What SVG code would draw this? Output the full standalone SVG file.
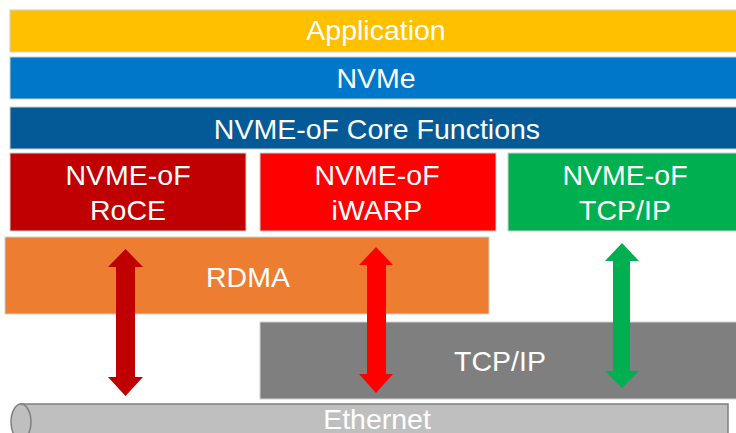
<svg xmlns="http://www.w3.org/2000/svg" width="736" height="433" viewBox="0 0 736 433">
<style>
.lbl{font-family:"Liberation Sans",Arial,sans-serif;font-size:28.5px;fill:#fff;text-anchor:middle}
.box{stroke:#d0d0d0;stroke-width:1}
</style>
<rect width="736" height="433" fill="#fff"/>
<g id="application"><rect class="box" x="10" y="10" width="730" height="42" fill="#ffc000"/><text class="lbl" x="376" y="40">Application</text></g>
<g id="nvme"><rect class="box" x="10" y="57" width="730" height="42" fill="#0077c8"/><text class="lbl" x="376" y="88">NVMe</text></g>
<g id="core"><rect class="box" x="10" y="107" width="730" height="42" fill="#035a96"/><text class="lbl" x="377" y="139">NVME-oF Core Functions</text></g>
<g id="roce"><rect class="box" x="10" y="153" width="236" height="78" fill="#c00000"/><text class="lbl" x="128" y="185">NVME-oF</text><text class="lbl" x="128" y="220">RoCE</text></g>
<g id="iwarp"><rect class="box" x="260" y="153" width="236" height="78" fill="#ff0000"/><text class="lbl" x="377" y="185">NVME-oF</text><text class="lbl" x="377" y="220">iWARP</text></g>
<g id="nvmeof-tcp"><rect class="box" x="508" y="153" width="236" height="78" fill="#00b050"/><text class="lbl" x="625" y="185">NVME-oF</text><text class="lbl" x="625" y="220">TCP/IP</text></g>
<g id="rdma"><rect class="box" x="5" y="237" width="484" height="77" fill="#ed7d31"/><text class="lbl" x="248" y="287">RDMA</text></g>
<g id="tcpip"><rect class="box" x="260" y="322" width="480" height="77" fill="#7f7f7f"/><text class="lbl" x="500" y="371">TCP/IP</text></g>
<g id="ethernet">
<path d="M21,404 L728,404 L728,440 L21,440 Z" fill="#bfbfbf" stroke="#7f7f7f" stroke-width="1.5"/>
<ellipse cx="21" cy="422" rx="10" ry="18" fill="#bfbfbf" stroke="#7f7f7f" stroke-width="1.5"/>
<text class="lbl" x="377" y="429">Ethernet</text>
</g>
<g id="connectors">
<polygon fill="#c00000" points="125.5,249 143,267 135,267 135,377 143,377 125.5,396 108,377 116,377 116,267 108,267"/>
<polygon fill="#ff0000" points="376,247 393,265 386,265 386,374 393,374 376,393 359,374 367,374 367,265 359,265"/>
<polygon fill="#00b050" points="622,243 639,261 630,261 630,371 639,371 622,388 605,371 613,371 613,261 605,261"/>
</g>
</svg>
